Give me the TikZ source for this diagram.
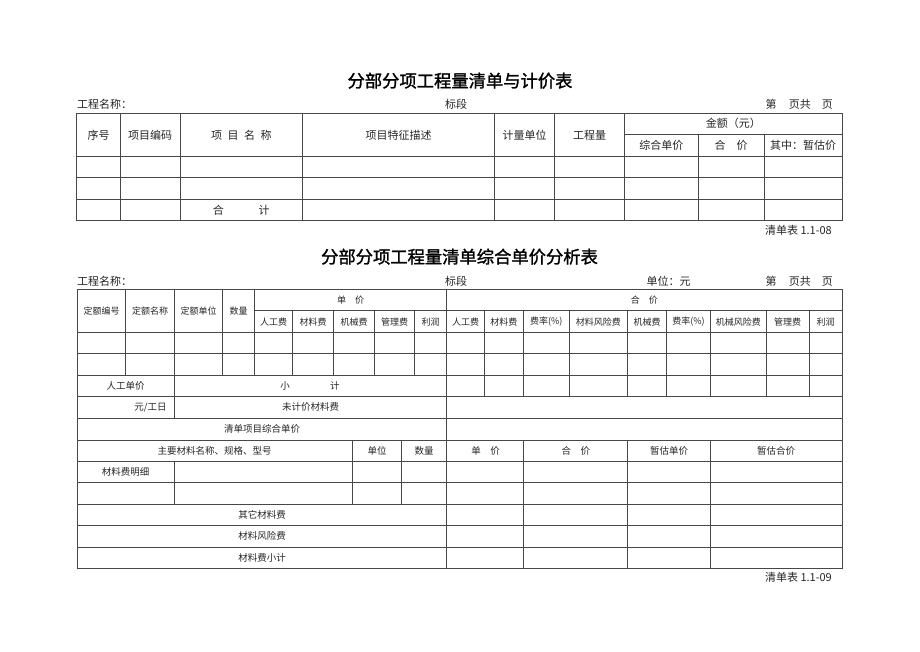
\documentclass[tikz,border=0pt]{standalone}
\usepackage{fontspec}
\setmainfont{Noto Sans CJK SC}
\newfontfamily\ttlfont{Noto Sans CJK SC}[FakeBold=1.4]
\begin{document}
\begin{tikzpicture}[x=1pt,y=-1pt,
  rule/.style={draw=black!72, line width=0.75pt},
  ttl/.style={font=\fontsize{17.3}{17.3}\ttlfont, inner sep=0pt},
  ta/.style={font=\fontsize{11}{11}\selectfont, inner sep=0pt, text=black!85},
  tb/.style={font=\fontsize{9}{9}\selectfont, inner sep=0pt, text=black!85},
  tc/.style={font=\fontsize{9.5}{9.5}\selectfont, inner sep=0pt, text=black!85}]
\fill[white] (0,0) rectangle (920,651);
\useasboundingbox (0,0) rectangle (920,651);

% ---------------- Table 1 ----------------
\node[ttl] (title1) at (460,80.7) {分部分项工程量清单与计价表};
\node[ta, anchor=west] (pn1) at (77,104) {工程名称：};
\node[ta] (bd1) at (456,104) {标段};
\node[ta, anchor=east] (pg1) at (833,104) {第\hspace{1.1em}页共\hspace{1em}页};

\draw[rule] (76.7,113.3) rectangle (842,220.3);
\foreach \y in {156.7,177.3,199.3} \draw[rule] (76.7,\y) -- (842,\y);
\draw[rule] (624.7,134) -- (842,134);
\foreach \x in {120.3,180,302.7,494.7,554.7,624.7} \draw[rule] (\x,113.3) -- (\x,220.3);
\foreach \x in {698,764} \draw[rule] (\x,134) -- (\x,220.3);

\node[ta] (h1a) at (98.5,135) {序号};
\node[ta] (h1b) at (150.2,135) {项目编码};
\node[ta] (h1c) at (241.3,135) {项\hspace{0.5em}目\hspace{0.5em}名\hspace{0.5em}称};
\node[ta] (h1d) at (398.7,135) {项目特征描述};
\node[ta] (h1e) at (524.7,135) {计量单位};
\node[ta] (h1f) at (589.7,135) {工程量};
\node[ta] (h1g) at (733.3,123.6) {金额（元）};
\node[ta] (h1h) at (661.3,145.4) {综合单价};
\node[ta] (h1i) at (731,145.4) {合\hspace{1em}价};
\node[ta] (h1j) at (803,145.4) {其中：暂估价};
\node[ta] (sum1) at (241.3,210) {合\hspace{3.15em}计};
\node[ta, anchor=east] (no1) at (832,230.7) {清单表 1.1-08};

% ---------------- Table 2 ----------------
\node[ttl] (title2) at (459.5,256.7) {分部分项工程量清单综合单价分析表};
\node[ta, anchor=west] (pn2) at (77,281) {工程名称：};
\node[ta] (bd2) at (456,281) {标段};
\node[ta] (un2) at (668.7,281) {单位：元};
\node[ta, anchor=east] (pg2) at (833,281) {第\hspace{1.1em}页共\hspace{1em}页};

\draw[rule] (77.3,289.3) rectangle (842,568.3);
\draw[rule] (254.3,310.7) -- (842,310.7);
\foreach \y in {332.3,353.7,375.3,396,418.3,440,461.3,482.3,504,525.3,547.3}
  \draw[rule] (77.3,\y) -- (842,\y);
\foreach \x in {125.7,222.7,254.3} \draw[rule] (\x,289.3) -- (\x,375.3);
\draw[rule] (174.3,289.3) -- (174.3,418.3);
\draw[rule] (174.3,461.3) -- (174.3,504);
\draw[rule] (446.7,289.3) -- (446.7,568.3);
\foreach \x in {292.7,333.3,374.7,414.3} \draw[rule] (\x,310.7) -- (\x,375.3);
\foreach \x in {484.3,523.3,569.3,627.3,666.7,710.3,766.3,809} \draw[rule] (\x,310.7) -- (\x,396);
\foreach \x in {352.7,401.3} \draw[rule] (\x,440) -- (\x,504);
\foreach \x in {523.3,627.3,710.3} \draw[rule] (\x,440) -- (\x,568.3);

\node[tb] (g1) at (101.5,311) {定额编号};
\node[tb] (g2) at (150,311) {定额名称};
\node[tb] (g3) at (198.5,311) {定额单位};
\node[tb] (g4) at (238.5,311) {数量};
\node[tb] (g5) at (350.5,300.3) {单\hspace{1em}价};
\node[tb] (g6) at (644.3,300.3) {合\hspace{1em}价};
\node[tb] (s1) at (273.5,321.7) {人工费};
\node[tb] (s2) at (313,321.7) {材料费};
\node[tb] (s3) at (354,321.7) {机械费};
\node[tb] (s4) at (394.5,321.7) {管理费};
\node[tb] (s5) at (430.5,321.7) {利润};
\node[tb] (s6) at (465.5,321.7) {人工费};
\node[tb] (s7) at (503.8,321.7) {材料费};
\node[tb] (s8) at (546.3,321.7) {费率(\%)};
\node[tb] (s9) at (598.3,321.7) {材料风险费};
\node[tb] (s10) at (647,321.7) {机械费};
\node[tb] (s11) at (688.5,321.7) {费率(\%)};
\node[tb] (s12) at (738.3,321.7) {机械风险费};
\node[tb] (s13) at (787.7,321.7) {管理费};
\node[tb] (s14) at (825.5,321.7) {利润};

\node[tc] (r1) at (125.7,385.8) {人工单价};
\node[tc] (r2) at (310,385.8) {小\hspace{4.25em}计};
\node[tc, anchor=east] (r3) at (166.7,407.3) {元/工日};
\node[tc] (r4) at (310.5,407.3) {未计价材料费};
\node[tc] (r5) at (262,429) {清单项目综合单价};
\node[tc] (m1) at (214.5,450.8) {主要材料名称、规格、型号};
\node[tc] (m2) at (377,450.8) {单位};
\node[tc] (m3) at (424,450.8) {数量};
\node[tc] (m4) at (485.5,450.8) {单\hspace{1em}价};
\node[tc] (m5) at (575.8,450.8) {合\hspace{1em}价};
\node[tc] (m6) at (669,450.8) {暂估单价};
\node[tc] (m7) at (776.2,450.8) {暂估合价};
\node[tc] (m8) at (125.7,471.8) {材料费明细};
\node[tc] (o1) at (262,514.7) {其它材料费};
\node[tc] (o2) at (262,536.3) {材料风险费};
\node[tc] (o3) at (262,557.8) {材料费小计};
\node[ta, anchor=east] (no2) at (832,577.3) {清单表 1.1-09};
\end{tikzpicture}
\end{document}
